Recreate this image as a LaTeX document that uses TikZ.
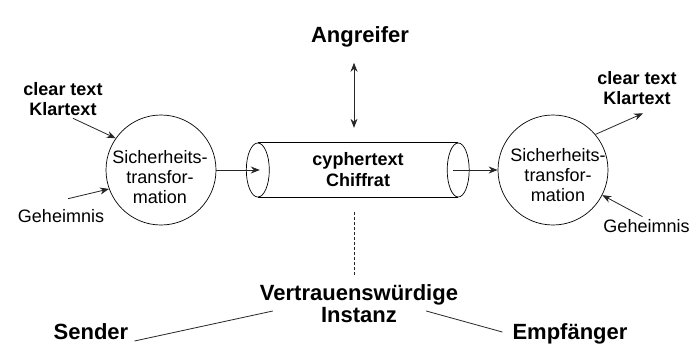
\documentclass[tikz,border=0pt]{standalone}
\usepackage{fontspec}
\setmainfont{Liberation Sans}
\usetikzlibrary{arrows.meta}

\begin{document}
\begin{tikzpicture}[x=1pt,y=-1pt,
  wire/.style={line width=0.8pt,draw=black!85},
  arr/.style={wire,-{Stealth[length=9pt,width=7pt]}},
  dblarr/.style={wire,{Stealth[length=9pt,width=7pt]}-{Stealth[length=9pt,width=7pt]}},
  plain/.style={inner sep=0pt,align=center,font=\fontsize{18}{20}\selectfont},
  smallbold/.style={inner sep=0pt,align=center,font=\fontsize{18}{20}\selectfont\bfseries},
  bigbold/.style={inner sep=0pt,align=center,font=\fontsize{22}{22}\selectfont\bfseries},
  trafo/.style={circle,draw,line width=0.7pt,minimum size=110pt,inner sep=0pt}]

  \fill[white] (0,0) rectangle (690,360);
  \useasboundingbox (0,0) rectangle (690,360);

  % the two transformation circles
  \node[trafo] (enc) at (161,170) {};
  \node[plain] (enctxt) at (160,177.5) {Sicherheits-\\transfor-\\mation};
  \node[trafo] (dec) at (553,170) {};
  \node[plain] (dectxt) at (558,175.5) {Sicherheits-\\transfor-\\mation};

  % the channel, drawn as a tube with both end caps visible
  \node[smallbold,minimum width=200pt,minimum height=54pt] (cyl) at (358,170)
    {cyphertext\\[1pt]Chiffrat};
  \draw[line width=0.7pt] (cyl.north west) -- (cyl.north east)
                          (cyl.south west) -- (cyl.south east);
  \draw[line width=0.7pt] (cyl.west) ellipse [x radius=11.5pt, y radius=27pt];
  \draw[line width=0.7pt] (cyl.east) ellipse [x radius=11pt, y radius=27pt];

  % labels around the sender side
  \node[smallbold] (lk) at (63,99.5) {clear text\\Klartext};
  \node[plain] (lg) at (61,216.5) {Geheimnis};
  % labels around the receiver side
  \node[smallbold] (rk) at (637,88.5) {clear text\\Klartext};
  \node[plain] (rg) at (646.5,226.5) {Geheimnis};

  % attacker and trusted party
  \node[bigbold] (ang) at (360,37.3) {Angreifer};
  \node[bigbold] (ti) at (359,304) {Vertrauenswürdige\\Instanz};
  \node[bigbold] (snd) at (91,332) {Sender};
  \node[bigbold] (emp) at (570,334) {Empfänger};

  % data flow
  \draw[arr] ([shift={(10,2)}]lk.south) -- (enc.145);
  \draw[arr] ([shift={(7,-11)}]lg.north) -- (enc.200);
  \draw[arr] (enc.east) -- ([xshift=2pt]cyl.west);
  \draw[arr] ([xshift=-5pt]cyl.east) -- (dec.west);
  \draw[arr] (dec.40) -- ([shift={(6,8)}]rk.south);
  \draw[arr] ([shift={(-4,-3)}]rg.north) -- (dec.-27);

  % attacker access and trust relations
  \draw[dblarr] ([shift={(-6,15)}]ang.south) -- ([shift={(-4,-15)}]cyl.north);
  \draw[wire,dash pattern=on 3pt off 2pt,line width=0.6pt]
    ([shift={(-4,15)}]cyl.south) -- ([shift={(-5,-8)}]ti.north);
  \draw[wire] ([shift={(6,9)}]snd.east) -- ([shift={(13,7)}]ti.west);
  \draw[wire] ([shift={(-32,7)}]ti.east) -- ([shift={(-10,-2)}]emp.west);
\end{tikzpicture}
\end{document}
